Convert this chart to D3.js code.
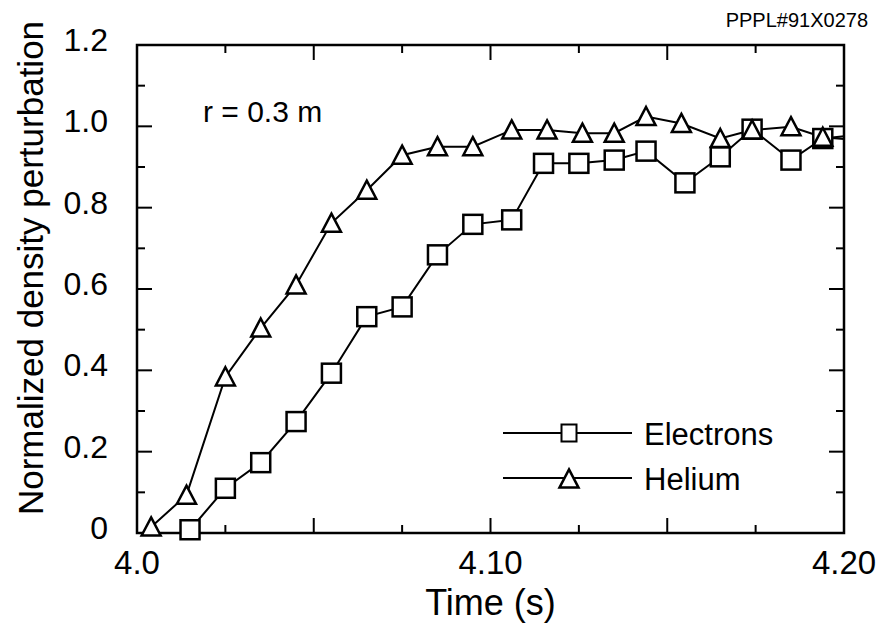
<!DOCTYPE html>
<html>
  <head>
    <meta charset="utf-8">
    <script src="https://d3js.org/d3.v7.min.js"></script>
    <style>
    body { margin: 0; background: #fff; }
    text { font-family: 'Liberation Sans', Arial, sans-serif; fill: #000; }
    </style>
  </head>
  <body>
    <script>

      // data
      var heliumTime = [4.004, 4.014, 4.025, 4.035, 4.045, 4.055, 4.065, 4.075, 4.085, 4.095,
                        4.106, 4.116, 4.126, 4.135, 4.144, 4.154, 4.165, 4.174, 4.185, 4.194, 4.205];
      var heliumVal  = [0.015, 0.093, 0.384, 0.504, 0.61, 0.762, 0.843, 0.929, 0.95, 0.95,
                        0.991, 0.991, 0.983, 0.983, 1.024, 1.007, 0.97, 0.991, 0.999, 0.973, 0.965];
      var electronTime = [4.015, 4.025, 4.035, 4.045, 4.055, 4.065, 4.075, 4.085, 4.095,
                          4.106, 4.115, 4.125, 4.135, 4.144, 4.155, 4.165, 4.174, 4.185, 4.194, 4.205];
      var electronVal  = [0.008, 0.11, 0.173, 0.274, 0.393, 0.532, 0.556, 0.684, 0.759,
                          0.77, 0.909, 0.909, 0.917, 0.939, 0.861, 0.925, 0.993, 0.917, 0.97, 0.98];
      var xTickLabels = [[4.0, "4.0"], [4.1, "4.10"], [4.2, "4.20"]];
      var yTickLabels = [[0, "0"], [0.2, "0.2"], [0.4, "0.4"], [0.6, "0.6"], [0.8, "0.8"], [1.0, "1.0"], [1.2, "1.2"]];

      // setup
      var w = 881, h = 628;
      var margin = {top: 45, left: 137, right: 37, bottom: 95};
      var plotwidth = w - margin.left - margin.right;
      var plotheight = h - margin.top - margin.bottom;

      var svg = d3.select("body").append("svg")
          .attr("width", w)
          .attr("height", h);

      var plot = svg.append("g")
          .attr("transform", "translate(" + margin.left + "," + margin.top + ")");

      var xScale = d3.scaleLinear().domain([4.0, 4.2]).range([0, plotwidth]);
      var yScale = d3.scaleLinear().domain([0, 1.2]).range([plotheight, 0]);

      // ticks every 0.025 in x, 0.1 in y; long ones at labelled spacing
      var xTicks = d3.range(0, 9).map(function(i) { return 4.0 + i * 0.025; });
      var yTicks = d3.range(0, 13).map(function(i) { return i * 0.1; });

      function xLen(t) { return Math.round((t - 4.0) / 0.025) % 2 === 0 ? 15 : 8; }
      function yLen(v) { return Math.round(v / 0.1) % 2 === 0 ? 15 : 8; }

      var axes = plot.append("g")
          .attr("stroke", "#000")
          .attr("stroke-width", 2);

      // bottom / top ticks pointing inward
      xTicks.forEach(function(t) {
        axes.append("line")
          .attr("x1", xScale(t)).attr("x2", xScale(t))
          .attr("y1", plotheight).attr("y2", plotheight - xLen(t));
        axes.append("line")
          .attr("x1", xScale(t)).attr("x2", xScale(t))
          .attr("y1", 0).attr("y2", xLen(t));
      });
      // left / right ticks
      yTicks.forEach(function(v) {
        axes.append("line")
          .attr("x1", 0).attr("x2", yLen(v))
          .attr("y1", yScale(v)).attr("y2", yScale(v));
        axes.append("line")
          .attr("x1", plotwidth).attr("x2", plotwidth - yLen(v))
          .attr("y1", yScale(v)).attr("y2", yScale(v));
      });

      // frame
      axes.append("rect")
          .attr("x", 0).attr("y", 0)
          .attr("width", plotwidth).attr("height", plotheight)
          .attr("fill", "none")
          .attr("stroke-width", 2.5);

      // tick labels
      plot.selectAll(".xlab").data(xTickLabels).enter()
        .append("text")
          .attr("x", function(d) { return xScale(d[0]); })
          .attr("y", plotheight + 41)
          .attr("text-anchor", "middle")
          .style("font-size", "33px")
          .text(function(d) { return d[1]; });

      plot.selectAll(".ylab").data(yTickLabels).enter()
        .append("text")
          .attr("x", -29)
          .attr("y", function(d) { return yScale(d[0]) + 6; })
          .attr("text-anchor", "end")
          .style("font-size", "32px")
          .text(function(d) { return d[1]; });

      // axis titles
      svg.append("text")
          .attr("x", margin.left + xScale(4.1))
          .attr("y", 615)
          .attr("text-anchor", "middle")
          .style("font-size", "36px")
          .text("Time (s)");

      svg.append("text")
          .attr("transform", "translate(43,268) rotate(-90)")
          .attr("text-anchor", "middle")
          .style("font-size", "35px")
          .text("Normalized density perturbation");

      svg.append("text")
          .attr("x", 868).attr("y", 27)
          .attr("text-anchor", "end")
          .style("font-size", "20px")
          .text("PPPL#91X0278");

      plot.append("text")
          .attr("x", 66).attr("y", 77)
          .style("font-size", "30px")
          .text("r = 0.3 m");

      // clip at the right edge only
      svg.append("defs").append("clipPath").attr("id", "clip")
        .append("rect")
          .attr("x", -60).attr("y", -60)
          .attr("width", plotwidth + 60).attr("height", plotheight + 120);

      var data = plot.append("g").attr("clip-path", "url(#clip)");

      var line = d3.line()
          .x(function(d) { return xScale(d[0]); })
          .y(function(d) { return yScale(d[1]); });

      var helium = d3.zip(heliumTime, heliumVal);
      var electrons = d3.zip(electronTime, electronVal);

      function triPath(cx, cy, s) {
        var hh = s * 0.9;
        return "M" + cx + "," + (cy - hh / 2 - 1) +
               "L" + (cx + s / 2) + "," + (cy + hh / 2) +
               "L" + (cx - s / 2) + "," + (cy + hh / 2) + "Z";
      }

      [electrons, helium].forEach(function(series) {
        data.append("path")
          .datum(series)
          .attr("d", line)
          .attr("fill", "none")
          .attr("stroke", "#000")
          .attr("stroke-width", 2);
      });

      data.selectAll(".sq").data(electrons).enter()
        .append("rect")
          .attr("x", function(d) { return xScale(d[0]) - 9.5; })
          .attr("y", function(d) { return yScale(d[1]) - 9.5; })
          .attr("width", 19).attr("height", 19)
          .attr("fill", "#fff")
          .attr("stroke", "#000")
          .attr("stroke-width", 2.5);

      data.selectAll(".tri").data(helium).enter()
        .append("path")
          .attr("d", function(d) { return triPath(xScale(d[0]), yScale(d[1]), 19); })
          .attr("fill", "#fff")
          .attr("stroke", "#000")
          .attr("stroke-width", 2.5)
          .attr("stroke-linejoin", "miter");

      // legend
      var legend = svg.append("g");
      var legendItems = [["Electrons", 433, "sq"], ["Helium", 478, "tri"]];
      legendItems.forEach(function(it) {
        legend.append("line")
          .attr("x1", 503).attr("x2", 632)
          .attr("y1", it[1]).attr("y2", it[1])
          .attr("stroke", "#000").attr("stroke-width", 2);
        if (it[2] === "sq") {
          legend.append("rect")
            .attr("x", 569 - 7.5).attr("y", it[1] - 8.5)
            .attr("width", 15).attr("height", 17)
            .attr("fill", "#fff").attr("stroke", "#000").attr("stroke-width", 2);
        } else {
          legend.append("path")
            .attr("d", triPath(569, it[1] + 1, 19))
            .attr("fill", "#fff").attr("stroke", "#000").attr("stroke-width", 2.5);
        }
        legend.append("text")
          .attr("x", 644).attr("y", it[1] + 12)
          .style("font-size", "31px")
          .text(it[0]);
      });

    </script>
  </body>
</html>
